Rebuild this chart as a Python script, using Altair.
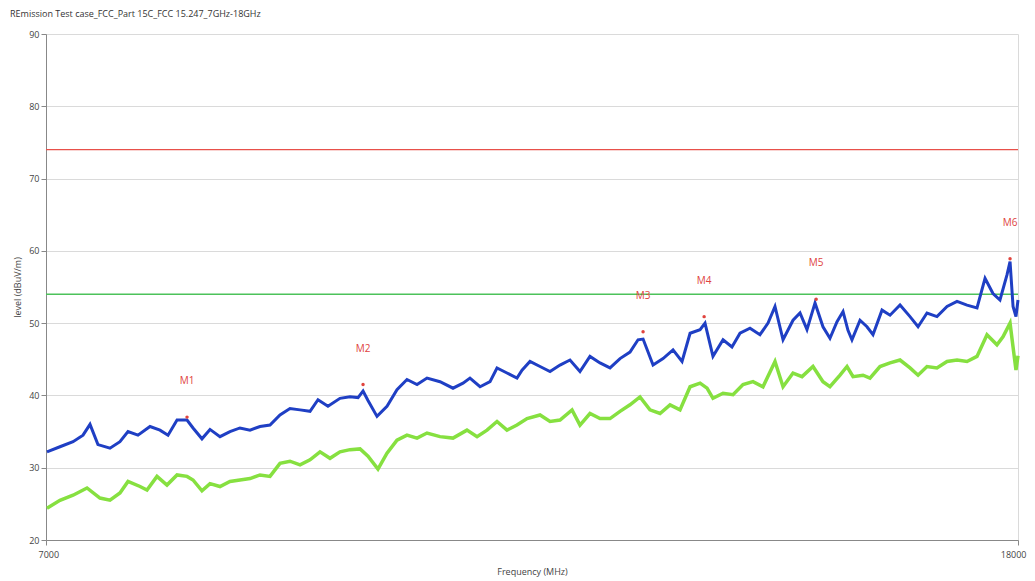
import altair as alt
import pandas as pd

# ---- data ----
peak_freq = [7011, 7158, 7306, 7419, 7498, 7588, 7724, 7837, 7928, 8041, 8177, 8290, 8381, 8483, 8596,
             8664, 8765, 8856, 8969, 9082, 9195, 9309, 9422, 9535, 9648, 9761, 9875, 9988, 10078, 10191,
             10327, 10440, 10531, 10588, 10644, 10746, 10859, 10972, 11085, 11199, 11312, 11459, 11606,
             11719, 11798, 11912, 12025, 12104, 12217, 12330, 12387, 12477, 12591, 12704, 12817, 12930,
             13043, 13156, 13270, 13383, 13496, 13609, 13700, 13757, 13870, 13983, 14096, 14198, 14289,
             14402, 14458, 14548, 14662, 14763, 14854, 14967, 15080, 15171, 15250, 15341, 15454, 15533,
             15612, 15703, 15793, 15872, 15952, 16020, 16076, 16121, 16212, 16291, 16359, 16461, 16552,
             16665, 16778, 16869, 16970, 17083, 17197, 17310, 17423, 17536, 17627, 17717, 17796, 17876,
             17910, 17944, 17977, 18000]
peak_level = [32.2, 32.9, 33.6, 34.5, 36.0, 33.2, 32.7, 33.6, 35.0, 34.5, 35.7, 35.2, 34.5, 36.6, 36.6,
              35.5, 34.0, 35.3, 34.3, 35.0, 35.5, 35.2, 35.7, 35.9, 37.3, 38.2, 38.0, 37.8, 39.4, 38.5,
              39.6, 39.8, 39.7, 40.6, 39.3, 37.1, 38.5, 40.8, 42.2, 41.5, 42.4, 41.9, 41.0,
              41.7, 42.4, 41.2, 41.9, 43.8, 43.1, 42.4, 43.5, 44.7, 44.0, 43.3, 44.2, 44.9,
              43.3, 45.4, 44.5, 43.8, 45.1, 46.0, 47.7, 47.8, 44.2, 45.1, 46.3, 44.7, 48.6,
              49.1, 50.0, 45.4, 47.7, 46.7, 48.6, 49.3, 48.4, 50.0, 52.3, 47.7, 50.4, 51.4,
              49.1, 52.8, 49.5, 47.9, 50.2, 51.6, 49.0, 47.7, 50.4, 49.5, 48.4, 51.8, 51.1,
              52.5, 50.9, 49.5, 51.4, 50.9, 52.3, 53.0, 52.5, 52.1, 56.2, 54.1, 53.2, 56.7,
              58.5, 52.3, 50.9, 53.2]

avg_freq = [7011, 7158, 7306, 7464, 7611, 7724, 7837, 7928, 8064, 8143, 8256, 8369, 8483, 8596, 8664,
            8765, 8856, 8969, 9082, 9195, 9309, 9422, 9535, 9648, 9761, 9875, 9988, 10101, 10214, 10327,
            10440, 10554, 10644, 10757, 10859, 10972, 11085, 11199, 11312, 11459, 11606, 11764, 11878,
            11991, 12104, 12217, 12330, 12444, 12591, 12704, 12817, 12953, 13043, 13156, 13270, 13383,
            13496, 13609, 13722, 13835, 13949, 14062, 14175, 14289, 14402, 14481, 14548, 14662, 14775,
            14888, 15001, 15114, 15250, 15341, 15454, 15556, 15680, 15793, 15872, 15986, 16065, 16133,
            16246, 16325, 16438, 16552, 16665, 16778, 16869, 16970, 17083, 17197, 17310, 17423, 17536,
            17649, 17762, 17830, 17910, 17944, 17977, 18000]
avg_level = [24.4, 25.5, 26.2, 27.2, 25.8, 25.5, 26.5, 28.1, 27.4, 26.9, 28.8, 27.6, 29.0, 28.8, 28.3,
             26.8, 27.8, 27.4, 28.1, 28.3, 28.5, 29.0, 28.8, 30.6, 30.9, 30.4, 31.1, 32.2, 31.3, 32.2,
             32.5, 32.6, 31.6, 29.8, 32.0, 33.8, 34.5, 34.1, 34.8, 34.3, 34.1, 35.2, 34.3,
             35.2, 36.4, 35.2, 35.9, 36.8, 37.3, 36.4, 36.6, 38.0, 35.9, 37.5, 36.8, 36.8,
             37.8, 38.7, 39.8, 38.0, 37.5, 38.7, 38.0, 41.2, 41.7, 41.0, 39.6, 40.3, 40.1,
             41.5, 41.9, 41.2, 44.7, 41.2, 43.1, 42.6, 44.0, 41.9, 41.2, 42.8, 44.0, 42.6,
             42.8, 42.4, 44.0, 44.5, 44.9, 43.8, 42.8, 44.0, 43.8, 44.7, 44.9, 44.7, 45.4,
             48.4, 47.0, 48.1, 50.0, 46.7, 43.5, 45.5]

marker_names = ["M1", "M2", "M3", "M4", "M5", "M6"]
marker_freq = [8596, 10588, 13757, 14448, 15716, 17910]
marker_level = [37.0, 41.5, 48.8, 50.9, 53.3, 58.9]

limit_names = ["Limit QP", "Limit AV"]
limit_levels = [74, 54]
limit_colors = ["#e8504a", "#4cc25a"]

y_ticks = [20, 30, 40, 50, 60, 70, 80, 90]
x_ticks = [7000, 18000]

# ---- tables ----
peak_df = pd.DataFrame({"freq": peak_freq, "level": peak_level})
avg_df = pd.DataFrame({"freq": avg_freq, "level": avg_level})
mk_df = pd.DataFrame({"name": marker_names, "freq": marker_freq, "level": marker_level})
lim_df = pd.DataFrame({"name": limit_names, "level": limit_levels})

FONT = "Open Sans"
xscale = alt.Scale(domain=[7000, 18000], nice=False, zero=False)
yscale = alt.Scale(domain=[20, 90], nice=False, zero=False)

xaxis = alt.Axis(values=x_ticks, title="Frequency (MHz)", labelFlush=True, labelFlushOffset=8,
                 grid=True, format="d", titlePadding=8, labelPadding=5)
yaxis = alt.Axis(values=y_ticks, title="level (dBuV/m)", grid=True, titlePadding=6)

X = alt.X("freq:Q", scale=xscale, axis=xaxis)
Y = alt.Y("level:Q", scale=yscale, axis=yaxis)

avg_line = alt.Chart(avg_df).mark_line(color="#86e040", strokeWidth=3.5, interpolate="linear").encode(x=X, y=Y)
peak_line = alt.Chart(peak_df).mark_line(color="#1f3fc4", strokeWidth=3, interpolate="linear").encode(x=X, y=Y)

limits = alt.Chart(lim_df).mark_rule(strokeWidth=1.3).encode(
    y=alt.Y("level:Q", scale=yscale),
    color=alt.Color("name:N", scale=alt.Scale(domain=limit_names, range=limit_colors), legend=None),
)

dots = alt.Chart(mk_df).mark_point(shape="circle", filled=True, size=12, color="#e0443e", opacity=1).encode(
    x=alt.X("freq:Q", scale=xscale), y=alt.Y("level:Q", scale=yscale))
labels = alt.Chart(mk_df).mark_text(dy=-36, fontSize=10, color="#e0443e", font=FONT).encode(
    x=alt.X("freq:Q", scale=xscale), y=alt.Y("level:Q", scale=yscale), text="name:N")

chart = alt.layer(limits, avg_line, peak_line, dots, labels).properties(
    width=972, height=506,
    autosize=alt.AutoSizeParams(type="none"),
    padding={"left": 38, "top": 26, "right": 9, "bottom": 40},
    title=alt.TitleParams("REmission Test case_FCC_Part 15C_FCC 15.247_7GHz-18GHz", anchor="start",
                          frame="group", dx=-36, offset=11, fontSize=9, fontWeight="normal",
                          color="#333", font=FONT),
).configure_view(stroke=None).configure_axis(
    labelFont=FONT, titleFont=FONT, labelFontSize=9, titleFontSize=9, titleFontWeight="normal",
    labelColor="#444", titleColor="#444", domainColor="#888", tickColor="#888", gridColor="#dadada",
    tickSize=5,
)

chart.save("out.html", embed_options={"renderer": "svg", "actions": False})
